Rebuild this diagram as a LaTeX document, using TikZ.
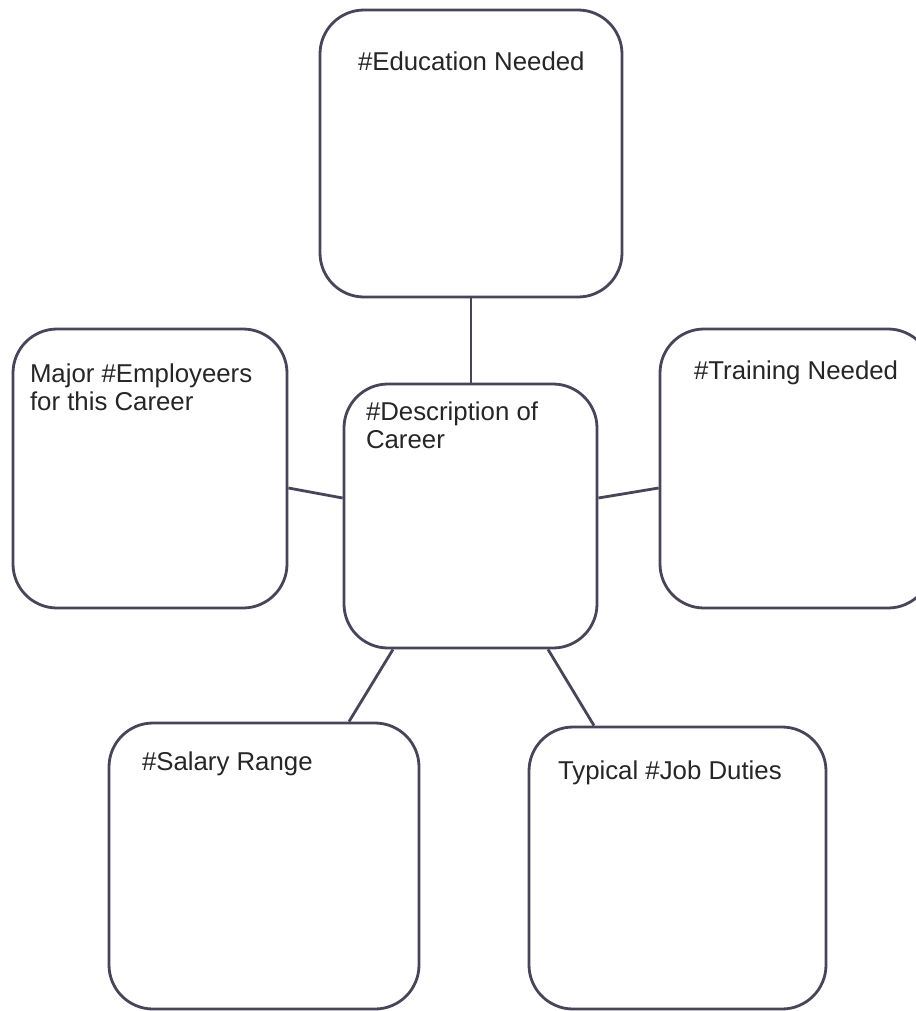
\documentclass[tikz,border=0pt]{standalone}
\usepackage{fontspec}
\setmainfont{Liberation Sans}
\usetikzlibrary{positioning}
\definecolor{boxline}{HTML}{4A4459}
\definecolor{boxtext}{HTML}{262626}
\tikzset{%
  % Specifications for style of nodes:
     box/.style = {rectangle, rounded corners=22pt, draw=boxline,
                   line width=1.4pt, fill=white, inner sep=0pt},
 caption/.style = {inner sep=0pt, align=left, text=boxtext,
                   font=\fontsize{12.9}{13.7}\selectfont},
    link/.style = {draw=boxline, line width=1.4pt},
}
\begin{document}
\begin{tikzpicture}[x=0.5pt, y=-0.5pt]
  \useasboundingbox (0,0) rectangle (915,1011);
  % Specification of nodes (position, size)
  \node (edu)   [box, minimum width=151pt, minimum height=143.5pt] at (471,153.5) {};
  \node (emp)   [box, minimum width=137pt, minimum height=139.5pt] at (150,468.5) {};
  \node (train) [box, minimum width=136pt, minimum height=139.5pt] at (796,468.5) {};
  \node (desc)  [box, minimum width=126.5pt, minimum height=132pt] at (470.5,516) {};
  \node (sal)   [box, minimum width=155pt, minimum height=143pt]   at (264,866) {};
  \node (job)   [box, minimum width=148.5pt, minimum height=141pt] at (677.5,868) {};
  % Texts in the upper left of each box
  \node (eduText)   [caption, below right=21.5pt and 19.5pt of edu.north west]
                                                     {\#Education Needed};
  \node (empText)   [caption, below right=18pt and 9pt of emp.north west]
                                  {Major \#Employeers\\for this Career};
  \node (trainText) [caption, below right=16.5pt and 17.5pt of train.north west]
                                                     {\#Training Needed};
  \node (descText)  [caption, below right=9.5pt and 11.5pt of desc.north west]
                                         {\#Description of\\Career};
  \node (salText)   [caption, below right=15pt and 17pt of sal.north west]
                                                     {\#Salary Range};
  \node (jobText)   [caption, below right=17.5pt and 15pt of job.north west]
                                                  {Typical \#Job Duties};
  % Specification of lines between the boxes
  \draw[link]                 (edu.south) -- (edu.south |- desc.north);
  \draw[link] ([yshift=-9.75pt]emp.east) -- ([yshift=9pt]desc.west);
  \draw[link] ([yshift=9pt]desc.east) -- ([yshift=-9.75pt]train.west);
  \draw[link] ([xshift=-38.75pt]desc.south) -- ([xshift=42.5pt]sal.north);
  \draw[link] ([xshift=38.75pt]desc.south) -- ([xshift=-41.75pt]job.north);
\end{tikzpicture}
\end{document}
